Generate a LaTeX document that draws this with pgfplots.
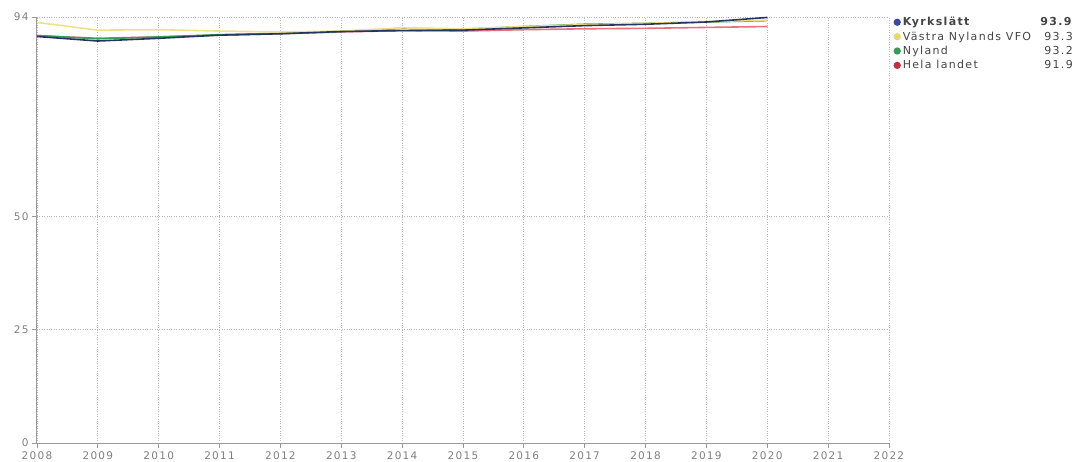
\documentclass[border=0pt]{standalone}
\usepackage{pgfplots}
\pgfplotsset{compat=1.18}
\usepackage{fontspec}
\setmainfont{DejaVu Sans}
\newfontfamily\tickfont[LetterSpace=12]{DejaVu Sans}
\newfontfamily\legfont[LetterSpace=12]{DejaVu Sans}
\definecolor{cKyr}{HTML}{26355F}
\definecolor{cKyrL}{HTML}{3A48A0}
\definecolor{cVas}{HTML}{EFE08A}
\definecolor{cVasL}{HTML}{E8D870}
\definecolor{cNyl}{HTML}{3A9A5A}
\definecolor{cHel}{HTML}{E87080}
\definecolor{cHelL}{HTML}{C03040}
\definecolor{cGrid}{HTML}{BBBBBB}
\definecolor{cAxis}{HTML}{999999}
\definecolor{cTick}{HTML}{808080}
\definecolor{cLeg}{HTML}{444444}
\begin{document}
\begin{tikzpicture}[x=1pt,y=1pt]
\path[use as bounding box] (0,0) rectangle (1082,461);
\begin{axis}[
  at={(37pt,18pt)}, anchor=south west,
  scale only axis, width=852pt, height=426pt,
  xmin=2008, xmax=2022, ymin=0, ymax=94,
  xtick={2008,...,2022}, ytick={0,25,50,94},
  xticklabel style={/pgf/number format/1000 sep={}},
  /pgf/number format/assume math mode=true,
  ticklabel style={font=\tickfont\fontsize{10.5}{12}\selectfont, text=cTick},
  axis x line*=bottom, axis y line*=left,
  axis line style={cAxis, line width=1pt, -},
  tick style={cAxis, line width=0.8pt},
  tick align=outside, major tick length=5pt,
  grid=major, major grid style={cGrid, dotted, line width=0.8pt},
  clip=false,
  reverse legend,
  legend cell align=left,
  legend style={at={(rel axis cs:1.004,1.007)}, anchor=north west, draw=none, fill=none,
    font=\legfont\fontsize{11}{12.5}\selectfont, text=cLeg, row sep=0.5pt, inner sep=1pt},
  legend image code/.code={\fill[#1] (0.1cm,0cm) circle (2.8pt);},
  every axis plot/.append style={line width=1.6pt},
]
\addplot[color=cHel, legend image code/.code={\fill[cHelL] (0.1cm,0cm) circle (2.8pt);}] coordinates {
(2008,89.9) (2009,89.3) (2010,89.6) (2011,90.0) (2012,90.3) (2013,90.7) (2014,91.0)
(2015,90.9) (2016,91.2) (2017,91.4) (2018,91.5) (2019,91.7) (2020,91.9)};
\addlegendentry{\makebox[170pt][l]{Hela landet\hfill 91.9}}
\addplot[color=cNyl, legend image code/.code={\fill[cNyl] (0.1cm,0cm) circle (2.8pt);}] coordinates {
(2008,89.9) (2009,89.2) (2010,89.6) (2011,90.1) (2012,90.4) (2013,90.8) (2014,91.5)
(2015,91.3) (2016,91.9) (2017,92.4) (2018,92.6) (2019,92.9) (2020,93.2)};
\addlegendentry{\makebox[170pt][l]{Nyland\hfill 93.2}}
\addplot[color=cVas, legend image code/.code={\fill[cVasL] (0.1cm,0cm) circle (2.8pt);}] coordinates {
(2008,92.8) (2009,91.1) (2010,91.2) (2011,90.9) (2012,90.7) (2013,90.9) (2014,91.6)
(2015,91.4) (2016,91.9) (2017,92.3) (2018,92.6) (2019,93.0) (2020,93.3)};
\addlegendentry{\makebox[170pt][l]{Västra Nylands VFO\hfill 93.3}}
\addplot[color=cKyr, legend image code/.code={\fill[cKyrL] (0.1cm,0cm) circle (2.8pt);}] coordinates {
(2008,89.7) (2009,88.7) (2010,89.3) (2011,90.0) (2012,90.3) (2013,90.8) (2014,91.0)
(2015,91.1) (2016,91.6) (2017,92.1) (2018,92.4) (2019,92.9) (2020,93.9)};
\addlegendentry{\makebox[170pt][l]{\textbf{Kyrkslätt}\hfill\textbf{93.9}}}
\end{axis}
\end{tikzpicture}
\end{document}
